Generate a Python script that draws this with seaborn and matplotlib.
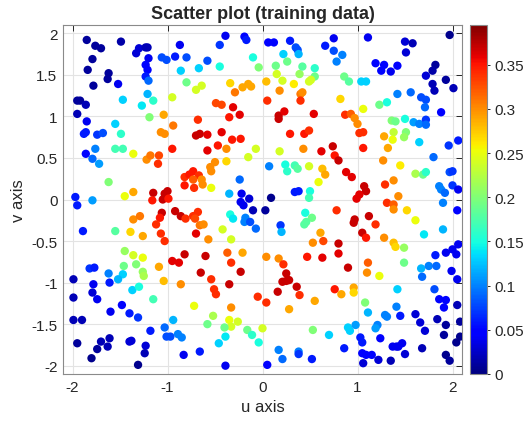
import matplotlib
matplotlib.use("Agg")
import matplotlib.pyplot as plt
import seaborn as sns

# sample positions (u, v) and target value c
u = [
    -1.85, -1.76, -1.70, -1.49, -1.79, -1.84, -1.78, -1.62, -1.63, -1.52, -1.95, -1.92, -1.86, -1.95, -1.85,
    -1.88, -1.86, -1.74, -1.68, -1.55, -1.49, -1.47, -1.76, -1.55, -1.47, -1.33, -1.30, -1.23, -1.21, -1.20,
    -1.23, -1.21, -1.23, -1.20, -1.21, -1.27, -1.15, -1.19, -1.04, -0.95, -0.94, -1.07, -1.03, -0.95, -1.06,
    -1.01, -0.92, -0.87, -0.86,
    -0.80, -0.67, -0.58, -0.45, -0.45, -0.39, -0.19, -0.17, 0.06, 0.12, 0.29, 0.35, 0.37, 0.38, 0.22,
    -0.10, -0.04, 0.14, 0.26, 0.15, 0.21, 0.33, 0.39, 0.42, 0.55, 0.55, 0.51, 0.49, 0.66, -0.80,
    -0.70, -0.64, -0.34, -0.21, -0.15, -0.12, -0.29, 0.04, 0.18, 0.40, 0.42, 0.40, 0.05, -0.49, -0.43,
    -0.31, -0.24, -0.35, -0.68, 0.17, 0.17, 0.23, 0.54, -0.70, -0.66, -0.58, -0.43, -0.32, -0.23, -0.47,
    -0.38, -0.58, -0.07, 0.18, 0.29, 0.44, 0.49, 0.43, 0.62,
    0.75, 1.11, 0.75, 0.84, 0.78, 1.50, 1.58, 1.51, 1.97, 1.19, 1.28, 1.25, 1.35, 1.42, 1.82,
    1.79, 1.72, 1.93, 1.79, 2.01, 1.81, 0.86, 0.91, 1.04, 1.09, 0.82, 1.42, 1.56, 1.67, 1.72,
    1.71, 1.88, 1.23, 1.31, 1.06, 0.87, 0.93, 0.97, 1.00, 1.02, 1.06, 1.36, 1.40, 1.50, 1.59,
    1.65, 1.72, 1.72, 1.38, 1.51, 1.49, 1.28, 1.37, 1.65, 0.74, 1.06, 1.32, 1.96, 2.06,
    -1.36, -1.86, -1.79, -1.72, -1.22, -1.18, -1.09, -1.10, -1.62, -1.97, -1.95, -1.79, -1.45, -1.36, -1.15,
    -1.16, -1.05, -1.03, -1.00, -0.99, -1.06, -1.08, -0.92, -0.86, -1.36, -1.29, -1.12, -1.07, -1.03, -1.89,
    -1.55, -1.39, -1.26, -1.45, -1.36, -1.26, -1.33, -1.46, -1.26, -1.09, -0.95, -0.88, -1.82, -1.77, -1.62,
    -1.47,
    -0.15, -0.82, -0.82, -0.73, -0.77, -0.67, -0.73, -0.64, -0.63, -0.72, -0.54, -0.55, -0.50, -0.54, -0.38,
    -0.24, -0.35, -0.22, -0.14, -0.23, -0.20, -0.10, 0.03, 0.09, 0.07, 0.24, 0.26, 0.34, 0.37, 0.49,
    0.63, 0.66, 0.59, 0.34, 0.38, 0.50, 0.49, 0.45, 0.52, 0.46, 0.44, -0.34, -0.31, -0.18, -0.19,
    -0.13, -0.07, 0.19, 0.20, -0.42, -0.33, -0.81, -0.73, -0.68, -0.71, -0.66, -0.62, -0.70, -0.57, -0.82,
    -0.60, -0.37, -0.21, -0.33, -0.65, -0.23, 0.04, 0.17, 0.22, 0.25, 0.47, 0.63, 0.53, 0.61, 0.64,
    0.76, 0.80, 1.80, 1.27, 1.45, 0.88, 0.94, 1.38, 1.29, 1.61, 1.69, 1.72, 1.97, 2.00, 1.86,
    1.88, 1.92, 2.00, 2.06, 1.90, 2.05, 1.07, 1.09, 1.02, 0.99, 1.43, 1.31, 1.38, 1.38, 1.52,
    0.78, 1.61, 0.97, 0.96, 1.12, 1.19, 1.90, 1.70, 1.05, 1.09, 1.28, 1.38, 1.40, 1.49, 0.80,
    0.80, 0.90, 1.11, 1.10, 1.49, 1.67, 1.75, 1.83, 1.82, 1.93, 2.00, 2.04, 2.06, 1.99,
    -1.99, -1.78, -1.61, -1.52, -1.25, -1.04, -0.86, -1.37, -1.30, -1.15, -1.99, -1.79, -1.74, -1.48, -1.60,
    -1.40, -1.31, -1.99, -1.90, -1.95, -1.70, -1.74, -1.61, -1.63, -1.80, -1.40, -1.38, -1.23, -1.24, -1.31,
    -1.18, -1.03, -0.94, -1.01, -0.97, -0.89, -0.85,
    -0.54, -0.35, -0.51, -0.49, -0.05, 0.04, 0.16, 0.21, 0.25, 0.28, 0.36, 0.39, 0.55, 0.28, -0.33,
    -0.72, -0.52, -0.58, -0.35, -0.26, -0.33, -0.40, -0.16, -0.11, 0.00, -0.39, -0.46, -0.04, 0.53, -0.83,
    -0.66, -0.39, 0.05, 0.17, 0.21, 0.38, 0.38, 0.52,
    1.23, 1.68, 2.05, 0.76, 0.83, 0.96, 0.96, 1.42, 1.81, 1.86, 1.93, 1.91, 2.05, 1.08, 1.11,
    1.41, 1.29, 1.31, 1.45, 1.61, 1.66, 1.71, 1.84, 1.93, 2.08, 1.91, 2.08, 2.04, 1.93, 1.97,
    0.70, 0.90, 0.92, 0.98, 1.21, 1.19, 1.03, 1.05, 1.24, 0.86, 1.37, 1.41, 1.43, 1.47, 1.50,
    1.68, 1.05, 1.09, 1.15, 1.22, 1.35, 1.06,
]
v = [
    1.92, 1.85, 1.82, 1.90, 1.69, 1.56, 1.37, 1.52, 1.45, 1.39, 1.19, 1.19, 1.14, 1.03, 0.94,
    0.79, 0.81, 0.78, 0.80, 0.91, 0.79, 1.20, 0.61, 0.61, 0.61, 1.76, 1.82, 1.83, 1.83, 1.70,
    1.62, 1.56, 1.48, 1.43, 1.27, 1.13, 1.19, 0.99, 1.02, 1.23, 0.89, 0.81, 0.79, 0.61, 1.71,
    1.68, 1.72, 1.86, 1.55,
    1.71, 1.58, 1.67, 1.60, 1.86, 1.97, 1.96, 1.92, 1.89, 1.89, 1.91, 1.83, 1.80, 1.75, 1.75,
    1.71, 1.59, 1.61, 1.66, 1.51, 1.43, 1.39, 1.51, 1.60, 1.58, 1.48, 1.44, 1.42, 1.85, 1.41,
    1.32, 1.37, 1.40, 1.35, 1.39, 1.36, 1.29, 1.42, 1.31, 1.27, 1.29, 1.19, 1.19, 1.16, 1.14,
    1.11, 1.02, 0.99, 0.96, 1.01, 0.97, 1.06, 1.03, 0.77, 0.79, 0.78, 0.81, 0.72, 0.73, 0.65,
    0.61, 0.59, 0.61, 0.58, 0.79, 0.79, 0.83, 0.61, 0.58,
    1.94, 1.95, 1.79, 1.74, 1.66, 1.90, 1.88, 1.77, 1.98, 1.64, 1.62, 1.55, 1.54, 1.61, 1.62,
    1.55, 1.49, 1.44, 1.39, 1.34, 1.31, 1.48, 1.42, 1.42, 1.42, 1.21, 1.27, 1.29, 1.23, 1.20,
    1.11, 1.05, 1.14, 1.17, 1.09, 1.02, 1.03, 0.98, 0.91, 0.80, 0.81, 0.95, 0.94, 0.97, 0.93,
    0.91, 0.96, 0.90, 0.81, 0.81, 0.75, 0.76, 0.72, 0.69, 0.64, 0.62, 0.62, 0.65, 0.71,
    0.55, 0.55, 0.49, 0.43, 0.48, 0.53, 0.53, 0.43, 0.21, 0.03, -0.07, -0.01, 0.04, 0.09, 0.08,
    -0.01, 0.00, 0.07, 0.10, 0.01, -0.16, -0.22, -0.14, -0.20, -0.24, -0.20, -0.30, -0.41, -0.50, -0.38,
    -0.38, -0.39, -0.44, -0.62, -0.67, -0.70, -0.78, -0.80, -0.87, -0.81, -0.74, -0.76, -0.83, -0.82, -0.89,
    -0.90,
    0.51, 0.27, 0.17, 0.34, 0.30, 0.29, 0.24, 0.24, 0.18, 0.14, 0.14, 0.39, 0.45, 0.34, 0.46,
    0.24, 0.07, 0.07, 0.01, -0.03, -0.07, -0.13, -0.13, 0.02, 0.40, 0.42, 0.34, 0.41, 0.37, 0.40,
    0.37, 0.30, 0.21, 0.09, 0.10, 0.10, 0.02, -0.16, -0.22, -0.27, -0.30, -0.18, -0.23, -0.22, -0.27,
    -0.27, -0.35, -0.31, -0.39, -0.36, -0.48, -0.23, -0.20, -0.15, -0.23, -0.31, -0.30, -0.41, -0.48, -0.66,
    -0.68, -0.64, -0.64, -0.76, -0.88, -0.87, -0.69, -0.71, -0.78, -0.89, -0.69, -0.70, -0.52, -0.40, -0.50,
    0.53, 0.47, 0.51, 0.47, 0.41, 0.33, 0.27, 0.23, 0.18, 0.31, 0.30, 0.33, 0.33, 0.34, 0.16,
    0.12, 0.08, 0.17, 0.12, -0.04, -0.13, 0.16, 0.10, 0.06, 0.01, 0.04, -0.04, -0.06, -0.12, -0.13,
    -0.13, -0.25, -0.24, -0.28, -0.20, -0.30, -0.36, -0.42, -0.40, -0.46, -0.46, -0.52, -0.57, -0.58, -0.53,
    -0.65, -0.82, -0.76, -0.88, -0.76, -0.83, -0.80, -0.80, -0.67, -0.64, -0.60, -0.66, -0.54, -0.86,
    -0.96, -1.02, -1.00, -0.96, -0.92, -0.98, -1.02, -1.09, -1.05, -1.20, -1.18, -1.12, -1.20, -1.27, -1.35,
    -1.37, -1.42, -1.45, -1.45, -1.73, -1.71, -1.80, -1.67, -1.77, -1.91, -1.71, -1.70, -1.76, -1.85, -1.99,
    -1.58, -1.54, -1.45, -1.65, -1.65, -1.62, -1.66,
    -0.96, -1.02, -1.08, -1.14, -1.17, -1.24, -1.11, -0.99, -0.98, -0.97, -1.05, -1.15, -1.22, -1.32, -1.30,
    -1.28, -1.40, -1.50, -1.45, -1.47, -1.53, -1.54, -1.57, -1.63, -1.55, -1.65, -1.73, -1.72, -1.57, -1.87,
    -1.83, -2.00, -1.99, -1.81, -1.92, -1.83, -1.86, -1.92,
    -0.92, -0.93, -0.96, -1.08, -1.14, -1.06, -1.12, -1.08, -1.08, -1.20, -1.21, -1.30, -1.27, -1.24, -1.36,
    -1.29, -1.39, -1.41, -1.40, -1.38, -1.48, -1.58, -1.44, -1.51, -1.47, -1.63, -1.65, -1.72, -1.87, -1.94,
    -1.63, -1.54, -1.58, -1.51, -1.51, -1.55, -1.66, -1.72, -1.67, -1.79, -1.77, -1.77, -1.77, -1.73, -1.86,
    -1.79, -1.85, -1.87, -1.87, -1.93, -1.94, -1.97,
]
c = [
    .010, .010, .010, .015, .010, .010, .010, .010, .010, .040, .010, .010, .020, .020, .040,
    .060, .060, .070, .080, .130, .160, .130, .100, .170, .170, .030, .030, .020, .020, .040,
    .050, .050, .060, .090, .120, .140, .160, .200, .290, .240, .310, .300, .300, .350, .080,
    .080, .060, .040, .130,
    .080, .130, .080, .150, .070, .040, .050, .060, .050, .050, .060, .080, .080, .120, .130,
    .150, .200, .190, .190, .240, .240, .260, .210, .180, .160, .190, .240, .240, .060, .190,
    .240, .240, .270, .290, .290, .290, .310, .280, .300, .310, .300, .340, .340, .330, .330,
    .360, .360, .350, .340, .370, .370, .360, .360, .370, .370, .360, .360, .350, .350, .350,
    .300, .360, .240, .240, .350, .350, .340, .300, .360,
    .040, .040, .080, .100, .100, .030, .020, .030, .005, .050, .050, .050, .040, .050, .010,
    .015, .030, .010, .020, .020, .020, .190, .180, .130, .130, .270, .100, .090, .080, .080,
    .090, .050, .190, .150, .250, .340, .320, .300, .300, .340, .340, .200, .190, .150, .110,
    .100, .070, .090, .230, .200, .210, .290, .250, .130, .370, .350, .290, .070, .060,
    .250, .050, .090, .110, .300, .310, .330, .340, .200, .060, .060, .110, .250, .290, .370,
    .350, .370, .370, .370, .350, .370, .350, .370, .370, .300, .310, .340, .340, .340, .060,
    .180, .270, .290, .210, .240, .250, .200, .190, .210, .290, .360, .360, .070, .060, .100,
    .130,
    .240, .340, .350, .350, .350, .340, .320, .300, .300, .340, .250, .300, .300, .300, .270,
    .090, .120, .040, .030, .040, .040, .020, .010, .005, .100, .150, .160, .170, .180, .240,
    .280, .290, .250, .060, .060, .150, .170, .150, .190, .180, .180, .150, .140, .100, .100,
    .080, .090, .070, .120, .240, .240, .340, .340, .340, .330, .310, .300, .360, .300, .370,
    .370, .320, .290, .340, .370, .370, .300, .300, .340, .370, .350, .360, .300, .290, .330,
    .350, .370, .090, .300, .260, .360, .360, .300, .340, .220, .190, .160, .080, .070, .100,
    .100, .090, .070, .040, .100, .050, .370, .370, .360, .360, .300, .340, .320, .300, .270,
    .340, .250, .370, .370, .370, .340, .120, .140, .370, .350, .300, .280, .270, .210, .370,
    .360, .370, .320, .300, .190, .120, .100, .090, .060, .040, .040, .040, .040, .040,
    .020, .040, .060, .120, .220, .280, .300, .130, .150, .170, .020, .030, .040, .050, .040,
    .060, .070, .020, .020, .010, .020, .010, .020, .020, .005, .030, .030, .030, .020, .005,
    .060, .090, .120, .080, .080, .100, .100,
    .340, .370, .340, .340, .340, .340, .370, .370, .370, .370, .370, .340, .290, .290, .300,
    .250, .220, .190, .250, .240, .240, .190, .190, .160, .240, .140, .130, .150, .200, .040,
    .060, .040, .050, .100, .090, .100, .070, .060,
    .250, .090, .040, .350, .290, .290, .270, .130, .080, .050, .050, .050, .020, .200, .120,
    .100, .100, .100, .060, .030, .030, .030, .020, .010, .010, .010, .005, .005, .005, .010,
    .130, .130, .130, .110, .100, .110, .060, .060, .050, .060, .040, .040, .040, .040, .030,
    .020, .050, .050, .050, .030, .020, .030,
]

sns.set_style("white")
plt.rcParams['font.family'] = ['Liberation Sans', 'DejaVu Sans']
plt.rcParams['axes.unicode_minus'] = False

fig = plt.figure(figsize=(5.32, 4.27), dpi=100)
ax = fig.add_axes([63/532, 1 - 375/427, 399/532, 349/427])

jet = plt.get_cmap('jet')
norm = plt.Normalize(0, 0.395)
sns.scatterplot(x=u, y=v, hue=c, palette=jet, hue_norm=norm, s=36,
                linewidth=0, legend=False, ax=ax, zorder=3)

ax.set_xlim(-2.1, 2.1)
ax.set_ylim(-2.1, 2.1)
ax.set_xticks([-2, -1, 0, 1, 2])
ax.set_yticks([-2, -1.5, -1, -0.5, 0, 0.5, 1, 1.5, 2])
ax.set_yticklabels(['-2', '-1.5', '-1', '-0.5', '0', '0.5', '1', '1.5', '2'])
ax.grid(True, color='#e3e3e3', lw=0.8)
ax.set_axisbelow(True)
ax.tick_params(direction='in', top=True, right=True, length=4, width=0.7,
               labelsize=11, colors='#262626', pad=4)
for sp in ax.spines.values():
    sp.set_color('#8a8a8a')
    sp.set_linewidth(0.8)

ax.set_xlabel('u axis', fontsize=12, color='#262626')
ax.set_ylabel('v axis', fontsize=12, color='#262626')
ax.set_title('Scatter plot (training data)', fontsize=13, fontweight='bold', pad=5)

cax = fig.add_axes([470/532, 1 - 375/427, 17/532, 349/427])
sm = plt.cm.ScalarMappable(norm=norm, cmap=jet)
cb = fig.colorbar(sm, cax=cax)
cb.set_ticks([0, 0.05, 0.1, 0.15, 0.2, 0.25, 0.3, 0.35])
cb.set_ticklabels(['0', '0.05', '0.1', '0.15', '0.2', '0.25', '0.3', '0.35'])
cb.ax.tick_params(labelsize=11, length=2, width=0.7, colors='#262626')
cb.outline.set_edgecolor('#8a8a8a')
cb.outline.set_linewidth(0.8)

fig.savefig('out.png', dpi=100)
